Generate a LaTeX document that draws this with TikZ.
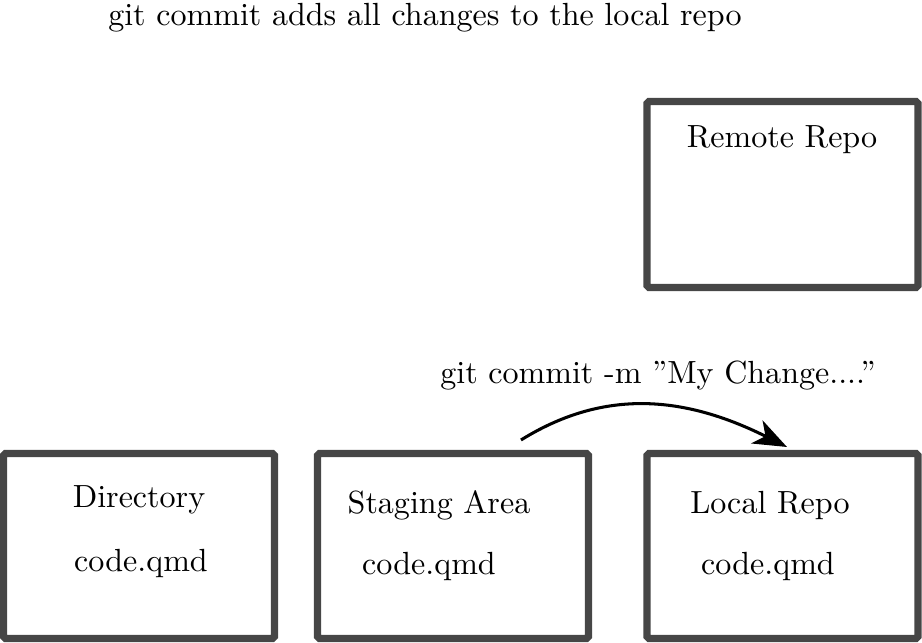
\documentclass[tikz,border=0pt]{standalone}
\usetikzlibrary{arrows.meta}
\definecolor{boxgray}{HTML}{464646}
\begin{document}
\begin{tikzpicture}[x=0.312pt,y=-0.312pt,
  repobox/.style={draw=boxgray,line width=2.2pt,rounded corners=0.6pt,
    minimum width={271*0.312pt},minimum height={185*0.312pt},inner sep=0pt},
  lbl/.style={inner sep=0pt,font=\fontsize{10}{12}\selectfont},
  cmdarrow/.style={line width=0.95pt,-{Stealth[length=10.5pt,width=8pt,inset=3pt]}}]
\useasboundingbox (0,0) rectangle (922,643);
% boxes
\node[repobox] (dirbox) at (139,546) {};
\node[repobox] (stagebox) at (453,546) {};
\node[repobox] (localbox) at (782.5,546) {};
\node[repobox,minimum height={186*0.312pt}] (remotebox) at (782.5,194.5) {};
% texts
\node[lbl] (title) at (425,18) {git commit adds all changes to the local repo};
\node[lbl] (remotelbl) at (782,140) {Remote Repo};
\node[lbl] (cmdlbl) at (658,376) {git commit -m ''My Change....''};
\node[lbl] (dirlbl) at (139,500) {Directory};
\node[lbl] (dirfile) at (141,563) {code.qmd};
\node[lbl] (stagelbl) at (439,505) {Staging Area};
\node[lbl] (stagefile) at (429,567) {code.qmd};
\node[lbl] (locallbl) at (770,506) {Local Repo};
\node[lbl] (localfile) at (768,567) {code.qmd};
% arrow
\coordinate (astart) at (521,440);
\coordinate (aend) at (787,447);
\draw[cmdarrow] (astart) .. controls (600,391) and (679,393) .. (aend);
\end{tikzpicture}
\end{document}
